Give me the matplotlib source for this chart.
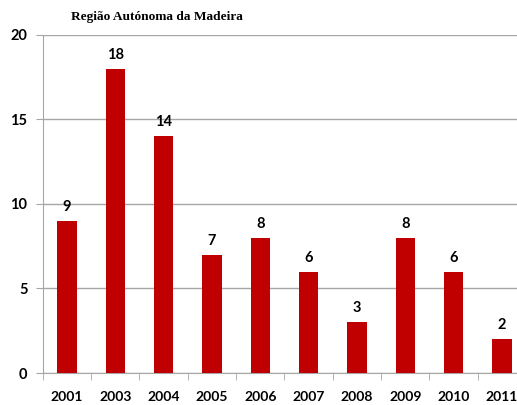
import numpy as np
import matplotlib.pyplot as plt

anos = ['2001', '2003', '2004', '2005', '2006', '2007', '2008', '2009', '2010', '2011']
valores = [9, 18, 14, 7, 8, 6, 3, 8, 6, 2]
titulo = 'Região Autónoma da Madeira'

cor = '#C00000'
cinza = '#A6A6A6'

fig = plt.figure(figsize=(5.17, 4.05), dpi=100)
ax = fig.add_axes([0.0826, 0.079, 0.935, 0.835])

x = np.arange(len(anos))
barras = ax.bar(x, valores, width=0.4, color=cor, zorder=3)

for xi, v in zip(x, valores):
    ax.annotate(str(v), (xi, v), xytext=(0, 5), textcoords='offset points',
                ha='center', va='bottom', fontsize=10.5, fontweight='bold',
                family='Lato')

ax.set_xlim(-0.5, len(anos) - 0.5)
ax.set_ylim(0, 20)
ax.set_yticks([0, 5, 10, 15, 20])
ax.yaxis.grid(True, color=cinza, linewidth=1)
ax.set_axisbelow(True)

ax.set_xticks(x)
ax.set_xticklabels(anos)
ax.set_xticks(np.arange(len(anos) + 1) - 0.5, minor=True)
ax.tick_params(axis='x', which='major', length=0, pad=13)
ax.tick_params(axis='x', which='minor', length=5, color=cinza, direction='out')
ax.tick_params(axis='y', length=5, color=cinza, pad=6)

for lbl in ax.get_xticklabels():
    lbl.set_fontweight('bold')
    lbl.set_fontsize(10)
    lbl.set_family('Lato')
for lbl in ax.get_yticklabels():
    lbl.set_fontweight('bold')
    lbl.set_fontsize(10.5)
    lbl.set_family('Lato')

for lado in ['top', 'right']:
    ax.spines[lado].set_visible(False)
ax.spines['left'].set_color(cinza)
ax.spines['bottom'].set_color(cinza)

fig.text(0.304, 0.958, titulo, ha='center', va='center', fontsize=9.6,
         fontweight='bold', family='Liberation Serif')

plt.savefig('out.png', dpi=100)
